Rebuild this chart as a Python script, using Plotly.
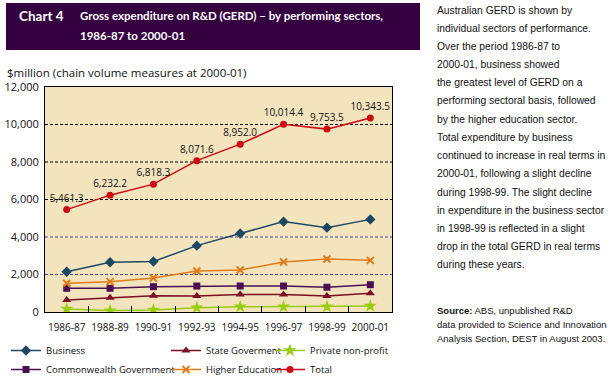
import plotly.graph_objects as go

years = ["1986-87", "1988-89", "1990-91", "1992-93", "1994-95", "1996-97", "1998-99", "2000-01"]
business = [2150, 2650, 2690, 3540, 4190, 4820, 4500, 4940]
commonwealth = [1265, 1265, 1350, 1385, 1385, 1385, 1320, 1455]
state = [640, 765, 870, 855, 940, 940, 855, 995]
private_np = [160, 75, 110, 230, 280, 280, 280, 320]
higher_ed = [1530, 1620, 1810, 2185, 2240, 2665, 2825, 2755]
total = [5461.3, 6232.2, 6818.3, 8071.6, 8952.0, 10014.4, 9753.5, 10343.5]
y_ticks = [0, 2000, 4000, 6000, 8000, 10000, 12000]
y_tick_text = ["0", "2,000", "4,000", "6,000", "8,000", "10,000", "12,000"]

title_left = "Chart 4"
title_lines = ["Gross expenditure on R&D (GERD) \u2013 by performing sectors,", "1986-87 to 2000-01"]
y_title = "$million (chain volume measures at 2000-01)"
body_lines = [
    "Australian GERD is shown by",
    "individual sectors of performance.",
    "Over the period 1986-87 to",
    "2000-01, business showed",
    "the greatest level of GERD on a",
    "performing sectoral basis, followed",
    "by the higher education sector.",
    "Total expenditure by business",
    "continued to increase in real terms in",
    "2000-01, following a slight decline",
    "during 1998-99. The slight decline",
    "in expenditure in the business sector",
    "in 1998-99 is reflected in a slight",
    "drop in the total GERD in real terms",
    "during these years.",
]
source_lines = [
    "<b>Source:</b> ABS, unpublished R&D",
    "data provided to Science and Innovation",
    "Analysis Section, DEST in August 2003.",
]

W, H = 614, 376
PL, PR, PT, PB = 45, 392, 87, 312


def px(x):
    return (x - PL) / (PR - PL)


def py(y):
    return (PB - y) / (PB - PT)


AX_FONT = "Open Sans, Lato, sans-serif"
TXT_FONT = "Liberation Sans, Arial, sans-serif"
TITLE_FONT = "Lato, Liberation Sans, sans-serif"

fig = go.Figure()

series = [
    ("Business", business, "#1D4862", "diamond", 8, "legend"),
    ("State Goverment", state, "#7A0E22", "triangle-up", 8, "legend2"),
    ("Private non-profit", private_np, "#9ACD10", "star", 10, "legend3"),
    ("Commonwealth Government", commonwealth, "#4A0E52", "square", 7, "legend"),
    ("Higher Education", higher_ed, "#E07B16", "x-thin", 7, "legend2"),
]
for name, vals, col, sym, size, leg in series:
    mk = dict(symbol=sym, size=size, color=col)
    if sym == "x-thin":
        mk["line"] = dict(color=col, width=2)
    fig.add_trace(go.Scatter(
        x=years, y=vals, name=name, mode="lines+markers",
        line=dict(color=col, width=1.5), marker=mk, legend=leg,
    ))

fig.add_trace(go.Scatter(
    x=years, y=total, name="Total", mode="lines+markers+text",
    line=dict(color="#CC0A14", width=1.5),
    marker=dict(symbol="circle", size=7, color="#CC0A14"),
    texttemplate="%{y:,.1f}", textposition="top center",
    textfont=dict(family=AX_FONT, size=10, color="#111"),
    legend="legend3",
))

shapes = []
# title bar
shapes.append(dict(type="rect", xref="paper", yref="paper",
                   x0=px(6), x1=px(420), y0=py(50), y1=py(3),
                   fillcolor="#34003F", line=dict(width=0), layer="below"))
# gridlines
for v in y_ticks[1:-1]:
    gc = "#4848A8" if v <= 4000 else "#000000"
    shapes.append(dict(type="line", xref="paper", yref="y", x0=0, x1=1, y0=v, y1=v,
                       line=dict(color=gc, width=1, dash="3px,2px"), layer="between"))

annotations = []
annotations.append(dict(text="<b>" + title_left + "</b>", x=px(17), y=py(16), xref="paper", yref="paper",
                        xanchor="left", yanchor="middle", showarrow=False,
                        font=dict(family=TITLE_FONT, size=13.5, color="white")))
for i, t in enumerate(title_lines):
    annotations.append(dict(text="<b>" + t + "</b>", x=px(78), y=py(16 + 19 * i), xref="paper", yref="paper",
                            xanchor="left", yanchor="middle", showarrow=False,
                            font=dict(family=TITLE_FONT, size=11.5, color="white")))
annotations.append(dict(text=y_title, x=px(5), y=py(72), xref="paper", yref="paper",
                        xanchor="left", yanchor="middle", showarrow=False,
                        font=dict(family=AX_FONT, size=11.5, color="#111")))
for i, t in enumerate(body_lines):
    annotations.append(dict(text=t, x=px(435), y=py(10 + 18.2 * i), xref="paper", yref="paper",
                            xanchor="left", yanchor="middle", showarrow=False,
                            font=dict(family=TXT_FONT, size=10.3, color="#111")))
for i, t in enumerate(source_lines):
    annotations.append(dict(text=t, x=px(435), y=py(310 + 14 * i), xref="paper", yref="paper",
                            xanchor="left", yanchor="middle", showarrow=False,
                            font=dict(family=TXT_FONT, size=9.5, color="#111")))

leg_common = dict(orientation="v", yanchor="top", bgcolor="rgba(0,0,0,0)",
                  font=dict(family=AX_FONT, size=9.5, color="#111"),
                  tracegroupgap=0, itemwidth=30)

fig.update_layout(
    width=W, height=H,
    margin=dict(l=PL, r=W - PR, t=PT, b=H - PB, pad=0, autoexpand=False),
    paper_bgcolor="white", plot_bgcolor="#F3E4BE",
    shapes=shapes, annotations=annotations,
    showlegend=True,
    legend=dict(x=px(6), y=py(336), xanchor="left", **leg_common),
    legend2=dict(x=px(166), y=py(336), xanchor="left", **leg_common),
    legend3=dict(x=px(270), y=py(336), xanchor="left", **leg_common),
    xaxis=dict(type="category", range=[-0.5, 7.5], showgrid=False, automargin=False,
               ticks="inside", tickson="boundaries", ticklen=6, tickcolor="#000", tickangle=0,
               showline=True, linecolor="#000", linewidth=1, mirror=True,
               tickfont=dict(family=AX_FONT, size=10, color="#111"),
               ticklabelstandoff=6),
    yaxis=dict(range=[0, 12000], tickvals=y_ticks, ticktext=y_tick_text, showgrid=False, automargin=False,
               zeroline=False, ticks="", showline=True, linecolor="#000", linewidth=1, mirror=True,
               tickfont=dict(family=AX_FONT, size=11, color="#111"), ticklabelstandoff=3),
)

fig.write_html("out.html", config={"displayModeBar": False},
               post_script="document.body.style.margin='0';document.body.style.padding='0';")
